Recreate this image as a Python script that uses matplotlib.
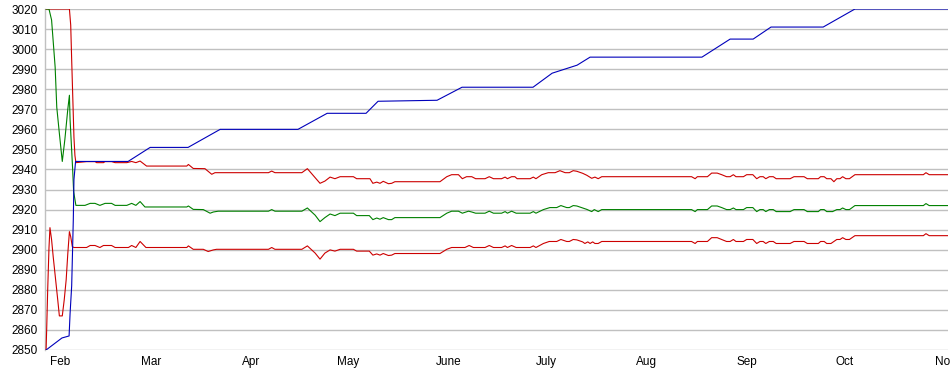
import matplotlib
matplotlib.use("Agg")
import matplotlib.pyplot as plt

plt.rcParams['font.family'] = ['Liberation Sans', 'DejaVu Sans']

# x values: days since Feb 1
month_days = [0, 28, 59, 89, 120, 150, 181, 212, 242, 273]
month_labels = ["Feb", "Mar", "Apr", "May", "June", "July", "Aug", "Sep", "Oct", "Nov"]

blue_x = [-4.3, 0.6, 2.8, 3.1, 3.6, 4.1, 4.3, 4.8, 21.0, 27.8, 39.5, 49.4, 73.4, 82.4,
          94.4, 98.1, 116.3, 124.0, 145.9, 151.8, 159.5, 163.5, 198.0, 206.7, 213.8,
          219.3, 235.4, 245.2, 273.9]
blue_y = [2850, 2856, 2857, 2868, 2882, 2915, 2935, 2944, 2944, 2951, 2951, 2960, 2960, 2968,
          2968, 2974, 2974.5, 2981, 2981, 2988, 2992, 2996, 2996, 3005, 3005,
          3011, 3011, 3020, 3020]

green_x = [-4.3, -3.4, -2.6, -1.5, -1.0, -0.2, 0.7, 1.5, 2.4, 2.9, 3.1, 3.4, 3.9, 4.2, 4.7, 4.9,
           7.7, 9.3, 10.8, 12.3, 13.9, 15.9, 17.0, 20.6, 22.1, 23.4, 24.7, 26.2, 39.1, 39.6,
           41.1, 44.2, 46.3, 47.3, 48.8, 64.3, 65.3, 66.3, 74.6, 76.3, 78.7, 80.2, 81.7, 83.3,
           84.8, 86.4, 90.5, 91.5, 95.4, 96.5, 97.7, 98.7, 99.7, 101.3, 102.3, 103.3, 117.2,
           119.3, 120.8, 122.9, 124.1, 126.0, 127.0, 128.2, 131.1, 132.4, 133.7, 136.2, 137.3,
           138.0, 139.3, 140.7, 145.0, 146.0, 146.8, 149.1, 151.1, 153.2, 154.5, 156.3, 157.1,
           158.3, 159.4, 161.2, 162.5, 164.0, 164.8, 166.0, 167.1, 194.8, 195.9, 196.6, 199.7,
           201.0, 202.7, 204.1, 205.6, 206.7, 207.7, 208.5, 210.8, 211.8, 213.7, 214.9, 215.9,
           216.9, 217.7, 218.8, 220.0, 220.9, 225.2, 226.4, 229.5, 230.5, 233.9, 234.6, 235.7,
           236.5, 238.3, 239.6, 240.6, 241.4, 242.4, 243.5, 245.2, 266.3, 267.1, 268.1, 273.9]
green_y = [3020, 3020, 3014.5, 2991, 2971, 2958, 2944, 2955, 2970, 2977, 2965, 2956, 2940, 2929, 2924, 2922.1,
           2922.1, 2923.1, 2923.1, 2922.1, 2923.1, 2923.1, 2922.1, 2922.1, 2923.1, 2922.1, 2924.0, 2921.3, 2921.3, 2921.8,
           2920.1, 2920.0, 2918.2, 2918.8, 2919.2, 2919.2, 2920.0, 2919.2, 2919.2, 2920.8, 2917.2, 2914.0, 2916.0, 2917.8,
           2917.0, 2918.2, 2918.2, 2917.0, 2917.0, 2915.0, 2915.8, 2915.2, 2916.0, 2915.0, 2915.0, 2916.0, 2916.0,
           2918.2, 2919.2, 2919.2, 2918.2, 2919.2, 2918.8, 2918.2, 2918.2, 2919.2, 2918.2, 2918.2, 2919.0,
           2918.2, 2919.2, 2918.2, 2918.2, 2919.0, 2918.2, 2920.0, 2921.0, 2921.0, 2922.0, 2921.0, 2921.0,
           2922.0, 2921.8, 2920.8, 2920.1, 2919.0, 2920.0, 2919.0, 2920.0, 2920.0, 2919.0, 2920.0, 2920.0,
           2921.8, 2921.8, 2921.0, 2920.0, 2920.0, 2920.8, 2920.0, 2920.0, 2921.0, 2921.0, 2919.0, 2920.0,
           2920.0, 2919.0, 2920.0, 2920.0, 2919.0, 2919.0, 2920.0, 2920.0, 2919.0, 2919.0, 2920.0, 2920.0,
           2919.0, 2919.0, 2920.0, 2920.0, 2920.8, 2920.0, 2920.0, 2922.0, 2922.0, 2923.0, 2922.0, 2922.0]

upper_x = [-4.3, 2.9, 3.3, 3.6, 3.9, 4.3, 4.6, 4.9, 8.2, 10.8, 11.3, 13.4, 13.9, 15.9, 17.0,
           20.6, 22.1, 23.4, 24.7, 26.7, 39.1, 39.6, 41.1, 44.7, 46.8, 47.8, 64.3, 65.3, 66.3,
           74.6, 76.3, 78.7, 80.2, 81.7, 83.3, 84.8, 86.4, 90.5, 91.5, 95.6, 96.5, 97.7, 98.7,
           99.7, 101.3, 102.3, 103.3, 117.2, 119.3, 120.8, 122.9, 124.1, 125.4, 127.0, 128.2,
           131.1, 132.4, 133.7, 136.2, 137.3, 138.0, 139.3, 140.3, 141.0, 145.0, 146.0, 146.8,
           148.6, 150.6, 152.7, 154.2, 155.8, 157.1, 158.3, 159.4, 161.2, 162.5, 164.0, 165.0,
           166.0, 167.1, 194.8, 195.9, 196.6, 199.7, 201.0, 202.7, 204.1, 205.6, 206.7, 207.7,
           208.5, 210.8, 211.8, 213.7, 214.9, 215.9, 216.9, 217.7, 218.8, 220.0, 220.9, 225.2,
           226.4, 229.5, 230.5, 233.9, 234.6, 235.7, 236.5, 237.8, 238.7, 239.6, 240.6, 241.4,
           242.4, 243.5, 245.2, 266.3, 267.1, 268.1, 273.9]
upper_y = [3020, 3020, 3012, 2994.6, 2978, 2956, 2947, 2943.4, 2943.9, 2943.9, 2943.4, 2943.4, 2943.9, 2943.9, 2943.4,
           2943.4, 2944.0, 2943.4, 2944.2, 2941.7, 2941.7, 2942.5, 2940.5, 2940.4, 2937.6, 2938.4, 2938.4, 2939.2, 2938.4,
           2938.4, 2940.4, 2935.9, 2933.1, 2934.2, 2936.2, 2935.4, 2936.4, 2936.4, 2935.4, 2935.4, 2933.1, 2933.7, 2933.1,
           2934.1, 2932.9, 2933.1, 2933.9, 2933.9, 2936.4, 2937.4, 2937.4, 2935.4, 2936.4, 2936.4, 2935.4,
           2935.4, 2936.4, 2935.4, 2935.4, 2936.2, 2935.4, 2936.4, 2936.4, 2935.4, 2935.4, 2936.2, 2935.4,
           2937.4, 2938.4, 2938.4, 2939.4, 2938.4, 2938.4, 2939.4, 2939.1, 2938.1, 2937.1, 2935.6, 2936.2,
           2935.4, 2936.4, 2936.4, 2935.4, 2936.4, 2936.4, 2938.2, 2938.2, 2937.4, 2936.4, 2936.4, 2937.4,
           2936.4, 2936.4, 2937.4, 2937.4, 2935.4, 2936.4, 2936.4, 2935.4, 2936.4, 2936.4, 2935.4, 2935.4,
           2936.4, 2936.4, 2935.4, 2935.4, 2936.4, 2936.4, 2935.4, 2935.4, 2933.9, 2935.4, 2935.4, 2936.4,
           2935.4, 2935.4, 2937.4, 2937.4, 2938.4, 2937.4, 2937.4]

lower_x = [-4.3, -4.1, -3.8, -3.4, -3.1, -2.6, -2.1, -1.2, -0.7, -0.2, 0.7, 1.3, 1.9, 2.4, 2.9, 3.3,
           3.8, 4.3, 8.2, 9.3, 10.8, 12.3, 13.4, 15.9, 17.0, 21.1, 22.1, 23.4, 24.7, 26.5, 39.1,
           39.6, 41.1, 44.2, 45.7, 47.3, 48.3, 64.3, 65.3, 66.3, 74.6, 76.3, 78.7, 80.2, 81.7,
           83.3, 84.8, 86.4, 90.5, 91.5, 95.4, 96.5, 97.7, 98.7, 99.7, 101.3, 102.3, 103.3,
           117.2, 119.3, 120.8, 124.9, 126.2, 127.5, 131.1, 132.4, 133.7, 136.2, 137.3, 138.0,
           139.3, 140.7, 145.0, 146.0, 146.8, 149.1, 150.9, 153.2, 154.5, 156.3, 157.1, 158.3,
           159.4, 161.2, 161.9, 162.8, 163.5, 164.3, 165.0, 166.0, 167.1, 194.8, 195.9, 196.6,
           199.7, 201.0, 202.7, 204.1, 205.6, 206.7, 207.7, 208.5, 210.8, 211.8, 213.7, 214.9,
           215.9, 216.9, 217.7, 218.8, 220.0, 220.9, 225.2, 226.4, 229.5, 230.5, 233.9, 234.6,
           235.7, 236.5, 237.8, 238.7, 239.6, 240.6, 241.4, 242.4, 243.5, 245.2, 266.3, 267.1,
           268.1, 273.9]
lower_y = [2850, 2861, 2880, 2901, 2911, 2905, 2896.5, 2883, 2875, 2867, 2867, 2875, 2885, 2898, 2909, 2906.5,
           2901.5, 2901.1, 2901.1, 2902.1, 2902.1, 2901.1, 2902.1, 2902.1, 2901.1, 2901.1, 2902.1, 2901.1, 2904.1, 2901.1, 2901.1,
           2901.9, 2900.2, 2900.2, 2899.1, 2899.9, 2900.2, 2900.2, 2901.1, 2900.2, 2900.2, 2901.9, 2898.3, 2895.3, 2898.3,
           2899.9, 2899.3, 2900.2, 2900.2, 2899.3, 2899.3, 2897.3, 2897.9, 2897.3, 2898.1, 2897.1, 2897.3, 2898.1,
           2898.1, 2900.2, 2901.1, 2901.1, 2902.1, 2901.1, 2901.1, 2902.1, 2901.1, 2901.1, 2901.9, 2901.1,
           2902.1, 2901.1, 2901.1, 2901.9, 2901.1, 2903.1, 2904.1, 2904.1, 2905.1, 2904.1, 2904.1, 2905.1,
           2904.9, 2903.9, 2903.1, 2903.9, 2903.1, 2903.9, 2903.1, 2903.1, 2904.1, 2904.1, 2903.1, 2904.1,
           2904.1, 2906.0, 2906.0, 2905.1, 2904.1, 2904.1, 2905.1, 2904.1, 2904.1, 2905.1, 2905.1, 2903.1,
           2904.1, 2904.1, 2903.1, 2904.1, 2904.1, 2903.1, 2903.1, 2904.1, 2904.1, 2903.1, 2903.1, 2904.1,
           2904.1, 2903.1, 2903.1, 2904.1, 2905.1, 2905.1, 2906.0, 2905.1, 2905.1, 2907.0, 2907.0, 2908.0,
           2907.0, 2907.0]

y_ticks = list(range(2850, 3021, 10))

fig = plt.figure(figsize=(9.5, 3.75), dpi=100)
ax = fig.add_axes([45 / 950, 25 / 375, 903 / 950, 341 / 375])

lw = 0.8
ax.plot(upper_x, upper_y, color="#cc0000", lw=lw, zorder=3)
ax.plot(lower_x, lower_y, color="#cc0000", lw=lw, zorder=3)
ax.plot(green_x, green_y, color="#008000", lw=lw, zorder=3)
ax.plot(blue_x, blue_y, color="#0000bb", lw=lw, zorder=4)

ax.set_xlim(-4.63, 273.9)
ax.set_ylim(2850, 3020)
ax.set_yticks(y_ticks)
ax.set_yticklabels([str(v) for v in y_ticks])
ax.set_xticks(month_days)
ax.set_xticklabels(month_labels)
ax.grid(axis="y", color="#c0c0c0", lw=1.0)
ax.set_axisbelow(True)
for s in ["top", "right", "bottom"]:
    ax.spines[s].set_visible(False)
ax.spines["left"].set_color("#c0c0c0")
ax.spines["left"].set_linewidth(1.0)
ax.tick_params(axis="both", length=0, labelsize=8.5, colors="#000000")
ax.tick_params(axis="y", pad=5)
ax.tick_params(axis="x", pad=4)

fig.savefig("out.png", dpi=100)
